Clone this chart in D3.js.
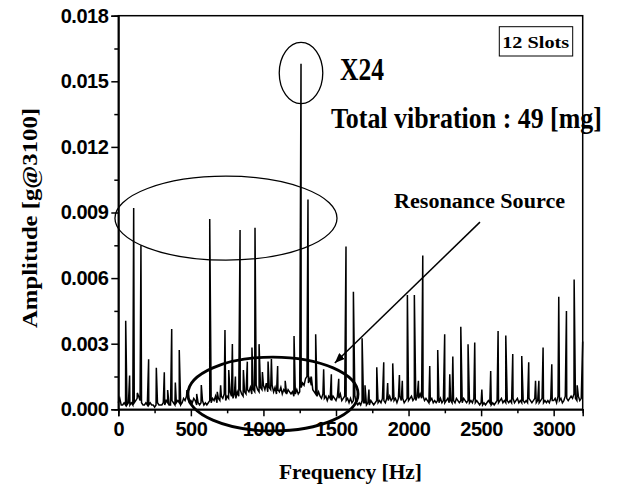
<!DOCTYPE html>
<html>
<head>
<meta charset="utf-8">
<script src="https://cdn.jsdelivr.net/npm/d3@7"></script>
<style>
  body { margin: 0; background: #fff; }
  svg { display: block; }
</style>
</head>
<body>
<div id="chart"></div>
<script>
// amplitudes below are in units of 1e-4 g

// noise floor, one value per 10 Hz bin from 0 to 3190 Hz
var noiseFloor = [
  3,5,2,2,3,2,2,3,2,3,  2,3,4,5,6,4,3,2,2,3,  2,2,3,2,2,1,2,3,2,2,  2,3,2,4,3,2,2,4,3,2,
  3,4,3,2,3,5,4,6,5,3,  4,3,5,4,2,3,2,3,4,2,  3,2,3,4,3,5,4,6,3,5,  4,6,5,7,4,6,5,8,6,5,
  7,5,8,6,9,7,6,8,7,9,  8,10,7,9,8,11,9,8,10,9,  11,9,12,8,10,9,11,8,10,7,  9,8,10,7,9,8,7,9,8,7,
  8,6,7,9,7,8,10,12,11,14,  15,12,14,11,9,8,7,6,8,6,  5,7,5,6,4,6,5,4,6,5,  4,6,5,7,4,5,6,4,5,3,
  5,3,4,6,3,2,3,2,4,3,  3,2,3,2,4,3,2,3,4,3,  4,3,5,4,3,5,4,6,4,5,  4,5,3,5,6,4,5,3,4,5,
  4,5,6,4,5,4,6,5,7,5,  6,4,5,4,3,4,5,3,4,3,  4,3,5,3,4,3,4,5,3,4,  3,4,3,5,4,3,4,3,5,4,
  3,4,3,4,3,5,3,4,3,2,  3,2,3,2,3,4,3,2,3,2,  3,4,3,4,5,3,4,3,4,3,  4,3,5,3,4,5,3,4,3,4,
  3,4,3,5,4,3,4,5,3,4,  3,4,5,3,4,3,4,3,5,4,  4,5,3,6,4,5,3,4,6,5,  4,5,6,5,7,5,4,6,4,5
];
var binWidth = 10;

// spectral peaks: frequency [Hz] and amplitude [1e-4 g]
var peakFreq = [51, 78, 106, 131, 156, 209, 262, 317, 340, 368, 393, 420, 473, 540, 572,
  630, 682, 705, 735, 761, 786, 807, 839, 862, 889, 921, 942, 970, 993, 1032, 1055, 1098,
  1150, 1211, 1259, 1307, 1330, 1360, 1415, 1468, 1519, 1569, 1620, 1680, 1700, 1727,
  1781, 1829, 1856, 1891, 1937, 1957, 1992, 2040, 2068, 2098, 2146, 2201, 2249, 2284,
  2305, 2360, 2410, 2456, 2505, 2566, 2617, 2670, 2718, 2780, 2828, 2875, 2898, 2927,
  2987, 3035, 3088, 3141, 3162, 3200];
var peakAmp = [40.5, 15.4, 92, 7.5, 75, 22.9, 19, 16.9, 8.8, 36.7, 12.2, 27.1, 8.8, 7, 11.1,
  87, 8, 11, 36.3, 18, 29.9, 15, 82, 18, 21.8, 28.3, 83, 29.8, 17, 21.8, 23, 19.8,
  13, 33.5, 158, 96, 15, 34.3, 18.3, 16, 14, 74.4, 53.8, 32.5, 11, 9,
  19.2, 21.5, 12, 21, 15.7, 13, 52.3, 52.3, 13, 70.3, 19.8, 27.1, 34.3, 16,
  24.1, 37.8, 29.7, 30.6, 9, 17.5, 35.8, 33.7, 25.3, 24.4, 21.5, 13, 13, 28.3,
  20.6, 51.5, 45, 59.4, 11, 31];

var xTicks = [0, 500, 1000, 1500, 2000, 2500, 3000];
var yTicks = [0, 0.003, 0.006, 0.009, 0.012, 0.015, 0.018];

// build the spectrum: noise bins with the peaks slotted in between
var spectrum = noiseFloor.map(function (v, i) { return { f: i * binWidth, a: v * 1e-4 }; });
peakFreq.forEach(function (f, i) { spectrum.push({ f: f, a: peakAmp[i] * 1e-4 }); });
spectrum.sort(function (p, q) { return p.f - q.f; });

var W = 617, H = 488;
var pl = 118.3, pt = 15.7, pr = 582.7, pb = 409.3;

var svg = d3.select("#chart").append("svg")
  .attr("width", W)
  .attr("height", H);

var x = d3.scaleLinear().domain([0, 3200]).range([pl, pr]);
var y = d3.scaleLinear().domain([0, 0.018]).range([pb, pt]);

var sans = "'Liberation Sans', Arial, sans-serif";
var serif = "'Liberation Serif', 'Times New Roman', serif";

// spectrum line
svg.append("path")
  .datum(spectrum)
  .attr("fill", "none")
  .attr("stroke", "#000")
  .attr("stroke-width", 1.5)
  .attr("stroke-linejoin", "miter")
  .attr("d", d3.line().x(function (d) { return x(d.f); }).y(function (d) { return y(d.a); }));

// frame
svg.append("rect")
  .attr("x", pl).attr("y", pt)
  .attr("width", pr - pl).attr("height", pb - pt)
  .attr("fill", "none").attr("stroke", "#000").attr("stroke-width", 1.5);

// x axis
svg.append("g")
  .attr("transform", "translate(0," + pb + ")")
  .call(d3.axisBottom(x).tickValues(xTicks).tickSize(7).tickPadding(6).tickFormat(d3.format("d")));
svg.append("g")
  .attr("transform", "translate(0," + pb + ")")
  .call(d3.axisBottom(x).tickValues(d3.range(250, 3200, 500)).tickSize(4).tickFormat(""));

// y axis
svg.append("g")
  .attr("transform", "translate(" + pl + ",0)")
  .call(d3.axisLeft(y).tickValues(yTicks).tickSize(7).tickPadding(3).tickFormat(d3.format(".3f")));
svg.append("g")
  .attr("transform", "translate(" + pl + ",0)")
  .call(d3.axisLeft(y).tickValues(d3.range(0.0015, 0.018, 0.003)).tickSize(4).tickFormat(""));

svg.selectAll(".domain").attr("stroke", "#000").attr("stroke-width", 1.5);
svg.selectAll(".tick line").attr("stroke", "#000").attr("stroke-width", 1.5);
svg.selectAll(".tick text")
  .attr("fill", "#000")
  .style("font-family", sans)
  .style("font-weight", "bold")
  .style("font-size", "20px")
  .style("letter-spacing", "-0.5px");

// axis titles
svg.append("text")
  .attr("x", (pl + pr) / 2).attr("y", 479)
  .attr("text-anchor", "middle")
  .attr("textLength", 143).attr("lengthAdjust", "spacingAndGlyphs")
  .style("font-family", serif).style("font-weight", "bold").style("font-size", "21px")
  .text("Frequency [Hz]");

svg.append("text")
  .attr("transform", "translate(36.5,218) rotate(-90)")
  .attr("text-anchor", "middle")
  .attr("textLength", 220).attr("lengthAdjust", "spacingAndGlyphs")
  .style("font-family", serif).style("font-weight", "bold").style("font-size", "22px")
  .text("Amplitude [g@3100]");

// annotation ellipses (centre and radii in data units)
var ellipses = [
  { f: 1259, a: 0.01538, rf: 150, ra: 0.0014, w: 1.3 },
  { f: 742, a: 0.00874, rf: 765, ra: 0.00192, w: 1.3 },
  { f: 1066, a: 0.0007, rf: 586, ra: 0.00169, w: 2.8 }
];
svg.selectAll("ellipse.note")
  .data(ellipses)
  .enter().append("ellipse")
  .attr("class", "note")
  .attr("cx", function (d) { return x(d.f); })
  .attr("cy", function (d) { return y(d.a); })
  .attr("rx", function (d) { return x(d.rf) - x(0); })
  .attr("ry", function (d) { return y(0) - y(d.ra); })
  .attr("fill", "none").attr("stroke", "#000")
  .attr("stroke-width", function (d) { return d.w; });

// arrow to the resonance area
svg.append("defs").append("marker")
  .attr("id", "head")
  .attr("viewBox", "0 0 10 8")
  .attr("refX", 10).attr("refY", 4)
  .attr("markerWidth", 10).attr("markerHeight", 8)
  .attr("markerUnits", "userSpaceOnUse")
  .attr("orient", "auto")
  .append("path").attr("d", "M0,0L10,4L0,8Z").attr("fill", "#000");

svg.append("line")
  .attr("x1", x(2492)).attr("y1", y(0.00856))
  .attr("x2", x(1492)).attr("y2", y(0.00212))
  .attr("stroke", "#000").attr("stroke-width", 1.5)
  .attr("marker-end", "url(#head)");

// labels
svg.append("text")
  .attr("x", x(1528)).attr("y", y(0.01506))
  .attr("textLength", 44).attr("lengthAdjust", "spacingAndGlyphs")
  .style("font-family", serif).style("font-weight", "bold").style("font-size", "31px")
  .text("X24");

svg.append("text")
  .attr("x", x(1465)).attr("y", y(0.01285))
  .attr("textLength", 271).attr("lengthAdjust", "spacingAndGlyphs")
  .style("font-family", serif).style("font-weight", "bold").style("font-size", "29px")
  .text("Total vibration : 49 [mg]");

svg.append("text")
  .attr("x", x(1900)).attr("y", y(0.00919))
  .attr("textLength", 171).attr("lengthAdjust", "spacingAndGlyphs")
  .style("font-family", serif).style("font-weight", "bold").style("font-size", "20px")
  .text("Resonance Source");

// "12 Slots" box in the upper right corner
svg.append("rect")
  .attr("x", pr - 83.4).attr("y", pt + 11)
  .attr("width", 73.4).attr("height", 29.3)
  .attr("fill", "#fff").attr("stroke", "#000").attr("stroke-width", 1);
svg.append("text")
  .attr("x", pr - 80.5).attr("y", pt + 32.5)
  .attr("textLength", 67).attr("lengthAdjust", "spacingAndGlyphs")
  .style("font-family", serif).style("font-weight", "bold").style("font-size", "17px")
  .text("12 Slots");
</script>
</body>
</html>
